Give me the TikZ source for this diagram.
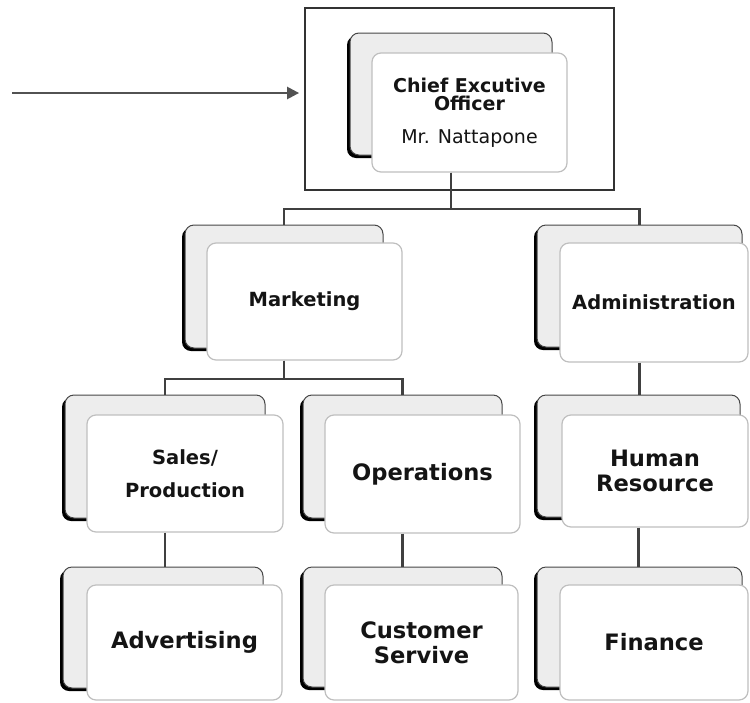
\documentclass[tikz,border=0pt]{standalone}
\usepackage{fontspec}
\setmainfont{DejaVu Sans}
\usetikzlibrary{shadows,arrows.meta}
\begin{document}
\begin{tikzpicture}[x=1pt,y=-1pt,
 backbox/.style={draw=gray!55!black, line width=1pt, fill=gray!14, rounded corners=9pt, inner sep=0pt,
   general shadow={fill=black, shadow xshift=-3pt, shadow yshift=-3pt}},
 frontbox/.style={draw=gray!50, line width=1.2pt, fill=white, rounded corners=9pt, inner sep=0pt, align=center, text=black!92},
 link/.style={draw=gray!50!black, line width=2.2pt},
 midtext/.style={font=\bfseries\fontsize{19.5}{33}\selectfont},
 bigtext/.style={font=\bfseries\fontsize{22.6}{25}\selectfont},
]
\useasboundingbox (0,0) rectangle (750,702);

% CEO frame and arrow
\node[draw=black!80, line width=1.8pt, minimum width=309pt, minimum height=182pt, inner sep=0pt] (frame) at (459.5,99) {};
\coordinate (astart) at (12,93);
\draw[-{Triangle[length=12pt,width=12pt]}, line width=2.4pt, draw=black!68, fill=black!68] (astart) -- ([xshift=-5pt]astart -| frame.west);

% CEO
\node[backbox, minimum width=202pt, minimum height=122pt] (ceob) at (451,94) {};
\node[frontbox, minimum width=195pt, minimum height=119pt, font=\bfseries\fontsize{19}{18.5}\selectfont] (ceo) at (469.5,112.5)
  {Chief Excutive\\Officer\\[14pt]{\mdseries Mr. Nattapone}};

% second level
\node[backbox, minimum width=198pt, minimum height=123pt] (mktb) at (284,286.5) {};
\node[frontbox, midtext, minimum width=195pt, minimum height=117pt] (mkt) at (304.5,301.5) {Marketing};
\node[backbox, minimum width=205pt, minimum height=122pt] (admb) at (639.5,286) {};
\node[frontbox, midtext, minimum width=188pt, minimum height=119pt] (adm) at (654,302.5) {Administration};

% third level
\node[backbox, minimum width=200pt, minimum height=123pt] (salb) at (165,456.5) {};
\node[frontbox, midtext, minimum width=196pt, minimum height=117pt] (sal) at (185,473.5) {Sales/\\Production};
\node[backbox, minimum width=199pt, minimum height=123pt] (opsb) at (402.5,456.5) {};
\node[frontbox, bigtext, minimum width=195pt, minimum height=118pt] (ops) at (422.5,474) {Operations};
\node[backbox, minimum width=203pt, minimum height=122pt] (hrb) at (638.5,456) {};
\node[frontbox, bigtext, minimum width=186pt, minimum height=112pt] (hr) at (655,471) {Human\\Resource};

% fourth level
\node[backbox, minimum width=200pt, minimum height=121pt] (advb) at (163,627.5) {};
\node[frontbox, bigtext, minimum width=195pt, minimum height=115pt] (adv) at (184.5,642.5) {Advertising};
\node[backbox, minimum width=199pt, minimum height=120pt] (cusb) at (402.5,627) {};
\node[frontbox, bigtext, minimum width=193pt, minimum height=115pt] (cus) at (421.5,642.5) {Customer\\Servive};
\node[backbox, minimum width=205pt, minimum height=120pt] (finb) at (639.5,627) {};
\node[frontbox, bigtext, minimum width=188pt, minimum height=115pt] (fin) at (654,642.5) {Finance};

% connectors
\draw[link] (ceob |- ceo.south) -- ++(0,36) -| (mktb.north);
\draw[link] (ceob |- ceo.south) -- ++(0,36) -| (admb.north);
\draw[link] (mktb |- mkt.south) -- ++(0,18) -| (salb.north);
\draw[link] (mktb |- mkt.south) -- ++(0,18) -| (opsb.north);
\draw[link] (admb |- adm.south) -- (admb |- hrb.north);
\draw[link] (salb |- sal.south) -- (salb |- advb.north);
\draw[link] (opsb |- ops.south) -- (opsb |- cusb.north);
\draw[link] (hrb |- hr.south) -- (hrb |- finb.north);
\end{tikzpicture}
\end{document}
